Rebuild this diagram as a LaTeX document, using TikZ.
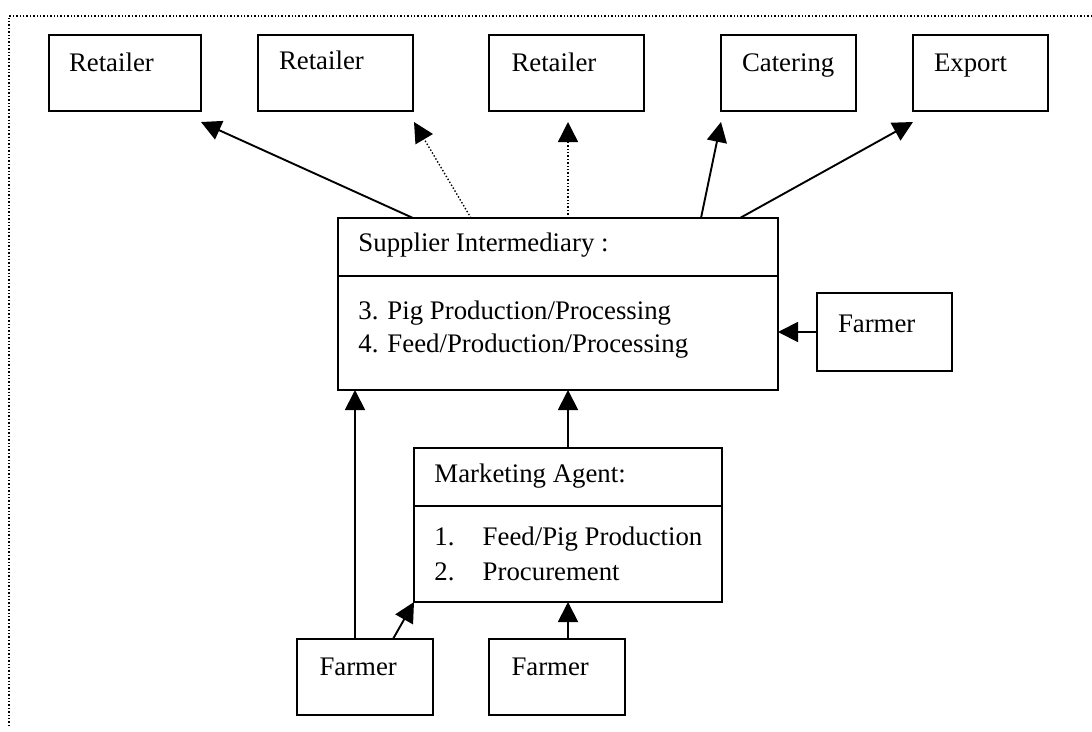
\documentclass[tikz,border=0pt]{standalone}
\usepackage{fontspec}
\setmainfont{Liberation Serif}
\usetikzlibrary{positioning,arrows.meta}

\begin{document}
\begin{tikzpicture}[x=1pt, y=-1pt, line width=1.9pt,
		every node/.style={font=\fontsize{26.8}{32.7}\selectfont},
		box/.style={draw,rectangle,inner ysep=0pt,inner xsep=21pt,outer sep=0pt,align=left,text height=36pt,text depth=40pt},
		farm box/.style={box,inner xsep=22.5pt,text width=91pt,text height=36pt,text depth=40pt},
		plain box/.style={draw,rectangle,inner sep=0pt,outer sep=0pt},
		textline/.style={inner sep=0pt,anchor=base west},
		arr/.style={-{Triangle[length=20pt,width=20pt]}},
		dots/.style={dotted,line width=1.4pt}]
			
			\useasboundingbox (0,0) rectangle (1092,731);
			\draw[dots] (1092,16) -- (9,16) -- (9,725);
			
			\node[box, inner xsep=20pt, text width=112pt] (r1) at (125,73) {Retailer};
			\node[box, text width=113pt, text height=34pt, text depth=42pt] (r2) [right=57pt of r1] {Retailer};
			\node[box, inner xsep=22.5pt, text width=110pt] (r3) [right=76pt of r2] {Retailer};
			\node[box, text width=93pt] (cat) [right=77pt of r3] {Catering};
			\node[box, text width=93pt] (exp) [right=57pt of cat] {Export};
			
			\node[plain box, minimum width=440pt, minimum height=172pt] (sup) [below=107pt of r3, xshift=-8.5pt] {};
			\node[textline] (suphead) at ([xshift=19.5pt,yshift=-33.3pt]sup.north west) {Supplier Intermediary :};
			\node[textline] (sup3) at ([xshift=19.5pt,yshift=-101.3pt]sup.north west) {3. Pig Production/Processing};
			\node[textline] (sup4) at ([xshift=19.5pt,yshift=-134pt]sup.north west) {4. Feed/Production/Processing};
			\draw ([yshift=-58pt]sup.north west) -- ([yshift=-58pt]sup.north east);
			
			\node[plain box, minimum width=308pt, minimum height=154pt] (agent) [below=58pt of sup, xshift=10pt] {};
			\node[textline] (agenthead) at ([xshift=19.5pt,yshift=-34pt]agent.north west) {Marketing Agent:};
			\node[textline] (agent1) at ([xshift=19.5pt,yshift=-97.3pt]agent.north west) {\makebox[48.3pt][l]{1.}Feed/Pig Production};
			\node[textline] (agent2) at ([xshift=19.5pt,yshift=-132.3pt]agent.north west) {\makebox[48.3pt][l]{2.}Procurement};
			\draw ([yshift=-58pt]agent.north west) -- ([yshift=-58pt]agent.north east);
			
			\node[box, text width=93pt, text height=39pt, text depth=39pt] (f3) [right=39pt of sup, yshift=-28pt] {Farmer};
			\node[farm box] (f1) [below=37pt of agent, xshift=-203pt] {Farmer};
			\node[farm box] (f2) [right=56pt of f1] {Farmer};
			
			\coordinate (f1up) at ([xshift=58pt]f1.north west);
			\coordinate (r3down) at ([xshift=1.5pt,yshift=-11pt]r3.south);
			
			\draw[arr] ([xshift=75pt]sup.north west) -- ([yshift=-11pt]r1.south east);
			\draw[arr,dots] ([xshift=133pt]sup.north west) -- ([xshift=1pt,yshift=-11pt]r2.south east);
			\draw[arr,dots] (r3down |- sup.north) -- (r3down);
			\draw[arr] ([xshift=-77pt]sup.north east) -- ([yshift=-11pt]cat.south west);
			\draw[arr] ([xshift=-38pt]sup.north east) -- ([yshift=-11pt]exp.south west);
			\draw[arr] (f3.west) -- (f3.west -| sup.east);
			\draw[arr] (agent.north) -- (agent.north |- sup.south);
			\draw[arr] (f1up) -- (f1up |- sup.south);
			\draw[arr] ([xshift=96pt]f1.north west) -- (agent.south west);
			\draw[arr] (agent.south |- f2.north) -- (agent.south);
			\end{tikzpicture}
\end{document}
